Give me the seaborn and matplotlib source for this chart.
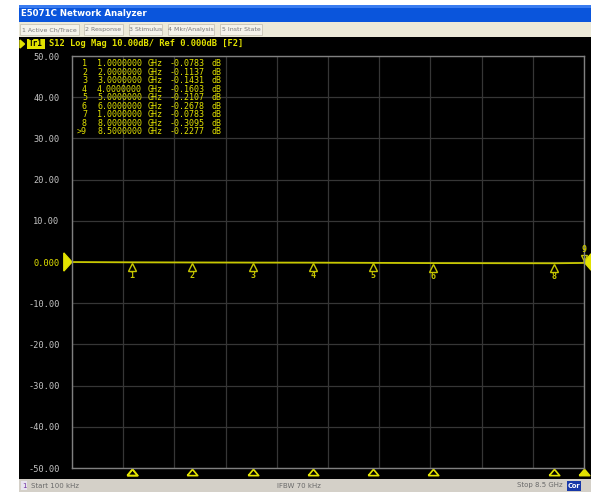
import numpy as np
import pandas as pd
import matplotlib
matplotlib.use("Agg")
import matplotlib.pyplot as plt
import seaborn as sns
from matplotlib.patches import Rectangle, Polygon
from matplotlib.transforms import blended_transform_factory, offset_copy

# ---- data -------------------------------------------------------------
marker_ids = ["1", "2", "3", "4", "5", "6", "7", "8", ">9"]
marker_freq_ghz = [1.0, 2.0, 3.0, 4.0, 5.0, 6.0, 1.0, 8.0, 8.5]
marker_db = [-0.0783, -0.1137, -0.1431, -0.1603, -0.2107, -0.2678, -0.0783, -0.3095, -0.2277]

trace_freq_ghz = [0.0001, 1.0, 2.0, 3.0, 4.0, 5.0, 6.0, 7.0, 8.0, 8.5]
trace_db = [-0.01, -0.0783, -0.1137, -0.1431, -0.1603, -0.2107, -0.2678, -0.29, -0.3095, -0.2277]

y_ticks = [50, 40, 30, 20, 10, 0, -10, -20, -30, -40, -50]
start_ghz, stop_ghz = 0.0001, 8.5

menu_items = ["1 Active Ch/Trace", "2 Response", "3 Stimulus", "4 Mkr/Analysis", "5 Instr State"]
header_text = "S12 Log Mag 10.00dB/ Ref 0.000dB [F2]"

# ---- styling ----------------------------------------------------------
W, H = 591, 492
YEL = "#e2e200"
TRACE = "#c8c800"
MONO = "DejaVu Sans Mono"

def fx(x):
    return x / W

def fy(y):
    return 1 - y / H

fig = plt.figure(figsize=(W / 100, H / 100), dpi=100, facecolor="white")

# window chrome (kept underneath the measurement axes)
def rect(x0, y0, x1, y1, color, z=-10, **kw):
    fig.patches.append(Rectangle((fx(x0), fy(y1)), fx(x1) - fx(x0), fy(y0) - fy(y1),
                                 transform=fig.transFigure, facecolor=color,
                                 edgecolor=kw.pop("ec", "none"), lw=kw.pop("lw", 0),
                                 zorder=z, **kw))

rect(19, 5, 591, 22, "#0a55dc")
rect(19, 5, 591, 8, "#3a7cf0", z=-9)
rect(19, 22, 591, 37, "#ece9d8")
rect(19, 37, 591, 479, "#000000")
rect(19, 479, 591, 492, "#d4d0c8")

fig.text(fx(21), fy(13.5), "E5071C Network Analyzer", color="white", fontsize=6.2,
         fontweight="bold", va="center", ha="left", family="DejaVu Sans")

menu_x = [(20, 79), (84, 123), (129, 162), (168, 214), (220, 262)]
for (x0, x1), label in zip(menu_x, menu_items):
    rect(x0, 24, x1, 35, "#f4f2ea", z=-9, ec="#c8c4b4", lw=0.6)
    fig.text(fx((x0 + x1) / 2), fy(29.5), label, color="#7a7a7a", fontsize=4.5,
             ha="center", va="center", family="DejaVu Sans")

# trace header
fig.patches.append(Polygon([(fx(20), fy(40)), (fx(20), fy(48)), (fx(24.5), fy(44))],
                           closed=True, transform=fig.transFigure, color=YEL, zorder=-8))
rect(27, 39.5, 45, 48.5, YEL, z=-8)
fig.text(fx(36), fy(44), "Tr1", color="black", fontsize=5.5, ha="center", va="center",
         family=MONO, fontweight="bold")
fig.text(fx(49), fy(44), header_text, color=YEL, fontsize=6.3, ha="left", va="center",
         family=MONO, fontweight="bold")

# status bar
rect(21, 481, 27, 490, "#e8e4f0", z=-9)
fig.text(fx(24), fy(485.5), "1", color="#7030a0", fontsize=5, ha="center", va="center")
fig.text(fx(31), fy(485.5), "Start 100 kHz", color="#6a6a6a", fontsize=5, ha="left", va="center")
fig.text(fx(299), fy(485.5), "IFBW 70 kHz", color="#6a6a6a", fontsize=5, ha="center", va="center")
fig.text(fx(563), fy(485.5), "Stop 8.5 GHz", color="#6a6a6a", fontsize=5, ha="right", va="center")
rect(567, 480.5, 581, 490.5, "#1838a8", z=-9)
fig.text(fx(574), fy(485.5), "Cor", color="white", fontsize=4.8, ha="center", va="center",
         fontweight="bold")

# ---- measurement axes -------------------------------------------------
ax = fig.add_axes([fx(72), fy(468), fx(584) - fx(72), fy(56) - fy(468)])
ax.set_facecolor("black")

df = pd.DataFrame({"freq": trace_freq_ghz, "mag": trace_db})
sns.lineplot(data=df, x="freq", y="mag", ax=ax, color=TRACE, lw=1.3, legend=False)

ax.set_xlim(start_ghz, stop_ghz)
ax.set_ylim(-50, 50)
ax.set_xticks(np.linspace(start_ghz, stop_ghz, 11))
ax.set_yticks(y_ticks)
ax.grid(True, color="#363636", lw=0.9)
ax.set_axisbelow(True)
ax.tick_params(length=0, labelbottom=False, pad=9)
ax.set_yticklabels([("0.000" if v == 0 else f"{v:.2f}") for v in y_ticks],
                   family=MONO, fontsize=6.2)
for lab, v in zip(ax.get_yticklabels(), y_ticks):
    lab.set_color(YEL if v == 0 else "#c4c4c4")
ax.set_xlabel("")
ax.set_ylabel("")
for side, sp in ax.spines.items():
    sp.set_color("#808080")
    sp.set_linewidth(1.0)

# reference level arrows
blend_left = blended_transform_factory(ax.transAxes, ax.transData)
ax.add_patch(Polygon([(-0.016, 2.2), (-0.016, -2.2), (0.0, 0.0)], closed=True,
                     transform=blend_left, color=YEL, clip_on=False))
ax.add_patch(Polygon([(1.0, 0.0), (1.014, 2.0), (1.014, -2.0)], closed=True,
                     transform=blend_left, color=YEL, clip_on=False))

# marker table
row_y0, row_dy = 63.5, 8.55
for i, (mid, f, v) in enumerate(zip(marker_ids, marker_freq_ghz, marker_db)):
    yy = fy(row_y0 + i * row_dy)
    fig.text(fx(87), yy, mid, color=YEL, fontsize=6, ha="right", va="center", family=MONO)
    fig.text(fx(97), yy, f"{f:.7f}", color=YEL, fontsize=6, ha="left", va="center", family=MONO)
    fig.text(fx(148), yy, "GHz", color=YEL, fontsize=6, ha="left", va="center", family=MONO)
    fig.text(fx(170), yy, f"{v:.4f}", color=YEL, fontsize=6, ha="left", va="center", family=MONO)
    fig.text(fx(212), yy, "dB", color=YEL, fontsize=6, ha="left", va="center", family=MONO)

# marker symbols on the trace
tri_tr = offset_copy(ax.transData, fig=fig, x=0, y=-4.5, units="dots")
num_tr = offset_copy(ax.transData, fig=fig, x=0, y=-13, units="dots")
for mid, f, v in zip(marker_ids, marker_freq_ghz, marker_db):
    if mid.startswith(">") or mid == "7":
        continue
    ax.plot([f], [v], marker="^", ms=5.5, mfc="none", mec=TRACE, mew=1.0,
            transform=tri_tr, clip_on=False)
    ax.text(f, v, mid, transform=num_tr, color=TRACE, fontsize=6, ha="center",
            va="center", family=MONO, fontweight="bold")

# active marker 9 at the stop frequency
f9, v9 = marker_freq_ghz[-1], marker_db[-1]
ax.plot([f9], [v9], marker="v", ms=5, mfc="none", mec=TRACE, mew=1.0,
        transform=offset_copy(ax.transData, fig=fig, y=5, units="dots"), clip_on=False)
ax.text(f9, v9, "9", transform=offset_copy(ax.transData, fig=fig, y=13, units="dots"),
        color=TRACE, fontsize=6, ha="center", va="center", family=MONO, fontweight="bold")

# marker position indicators along the bottom edge (flat triangles)
flat_tri = [(-1.0, -0.6), (1.0, -0.6), (0.0, 0.6), (-1.0, -0.6)]
blend_bot = offset_copy(blended_transform_factory(ax.transData, ax.transAxes),
                        fig=fig, y=-4, units="dots")
for mid, f in zip(marker_ids, marker_freq_ghz):
    active = mid.startswith(">")
    ax.plot([f], [0], marker=flat_tri, ms=7.5, mfc=(YEL if active else "none"), mec=YEL,
            mew=1.2, transform=blend_bot, clip_on=False)

fig.savefig("out.png", dpi=100, facecolor="white")
